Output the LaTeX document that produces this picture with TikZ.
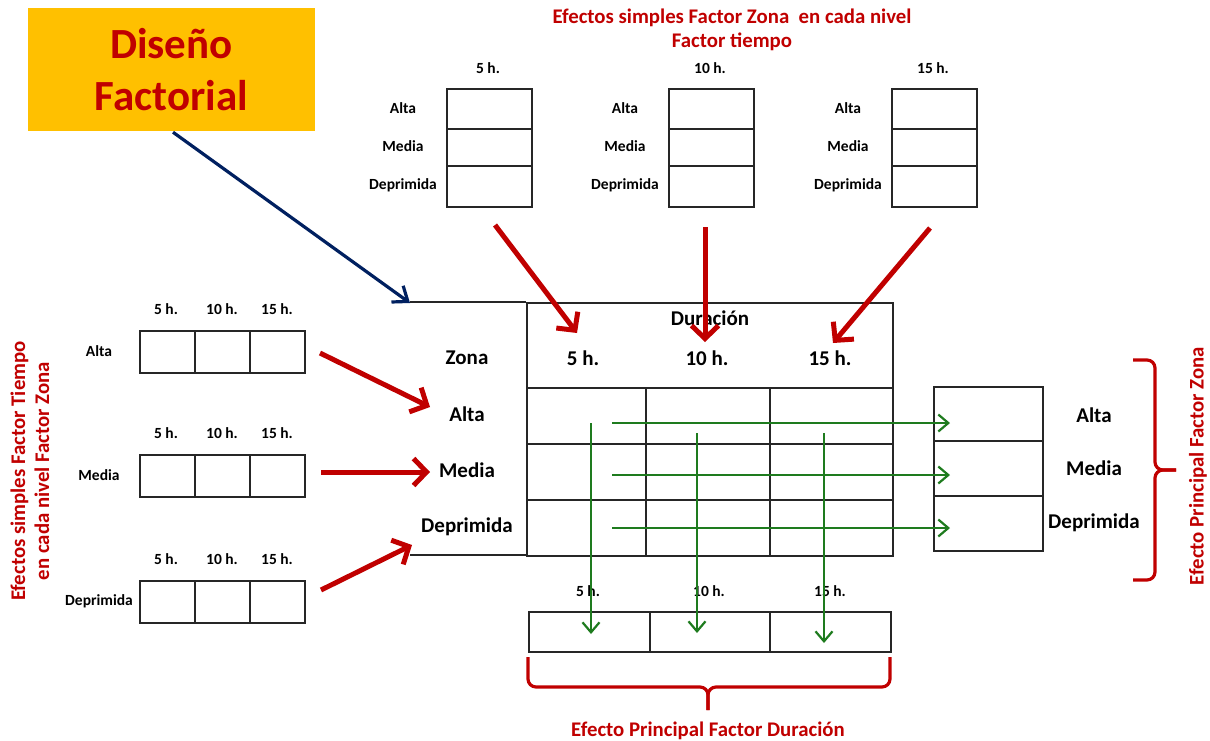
\documentclass[tikz,border=0pt]{standalone}
\usepackage{fontspec}
\setmainfont{Carlito}
\usetikzlibrary{arrows.meta}
\definecolor{dred}{HTML}{C00000}
\definecolor{gold}{HTML}{FFC000}
\definecolor{navy}{HTML}{002060}
\definecolor{dgreen}{HTML}{1E7B1E}
\begin{document}
\begin{tikzpicture}[x=1pt,y=-1pt,
  cellbox/.style={draw=black!85, line width=1.8pt, inner sep=0pt, anchor=north west},
  gridline/.style={draw=black!85, line width=1.8pt},
  small/.style={font=\bfseries\fontsize{15.5}{17}\selectfont, inner sep=0pt},
  mid/.style={font=\bfseries\fontsize{21}{24}\selectfont, inner sep=0pt},
  head/.style={text=dred, font=\bfseries\fontsize{20.8}{24}\selectfont, align=center, inner sep=0pt},
  redarrow/.style={draw=dred, line width=5pt, -{Straight Barb[length=13pt,width=27pt]}},
  greenarrow/.style={draw=dgreen, line width=2.2pt, -{Straight Barb[length=10pt,width=17pt]}},
  bluearrow/.style={draw=navy, line width=3.2pt, -{Straight Barb[length=13pt,width=20pt]}},
  bracket/.style={draw=dred, line width=3.2pt, rounded corners=8pt},
]
\useasboundingbox (0,0) rectangle (1210,740);

% title
\node[fill=gold, minimum width=287pt, minimum height=123pt, inner sep=0pt, text=dred,
      align=center, font=\bfseries\fontsize{43}{52}\selectfont] (title) at (171.5,69.5) {Diseño\\Factorial};

% top heading
\node[head] (tophead) at (732,30) {Efectos simples Factor Zona\ \ en cada nivel\\Factor tiempo};

% top tables
\foreach \x/\h/\n in {446/5 h./a, 668/10 h./b, 891/15 h./c}{
  \node[small] (th\n) at (\x+42,68) {\h};
  \node[cellbox, minimum width=85pt, minimum height=40pt] (t\n1) at (\x,88) {};
  \node[cellbox, minimum width=85pt, minimum height=37pt] (t\n2) at (\x,128) {};
  \node[cellbox, minimum width=85pt, minimum height=41pt] (t\n3) at (\x,165) {};
  \node[small] (tl\n1) at (\x-43,108) {Alta};
  \node[small] (tl\n2) at (\x-43,146) {Media};
  \node[small] (tl\n3) at (\x-43,185) {Deprimida};
}

% left tables
\foreach \y/\lab/\n in {330/Alta/a, 454/Media/b, 580/Deprimida/c}{
  \node[small] (lh\n1) at (166,\y-21) {5 h.};
  \node[small] (lh\n2) at (222,\y-21) {10 h.};
  \node[small] (lh\n3) at (277,\y-21) {15 h.};
  \node[cellbox, minimum width=55pt, minimum height=42pt] (l\n1) at (139,\y) {};
  \node[cellbox, minimum width=55pt, minimum height=42pt] (l\n2) at (194,\y) {};
  \node[cellbox, minimum width=55pt, minimum height=42pt] (l\n3) at (249,\y) {};
  \node[small] (ll\n) at (99,\y+21) {\lab};
}

% left rotated heading
\node[head, rotate=90] (lefthead) at (30,471) {Efectos simples Factor Tiempo\\en cada nivel Factor Zona};

% central table
\node[cellbox, minimum width=366pt, minimum height=85pt] (chead) at (526,302) {};
\draw[gridline] (410,302) -- (chead.north west);
\draw[gridline] (410,555) -- (526,555);
\foreach \r/\y/\hh in {1/387/56, 2/443/56, 3/499/56}{
  \node[cellbox, minimum width=119pt, minimum height=\hh pt] (c\r1) at (526,\y) {};
  \node[cellbox, minimum width=124pt, minimum height=\hh pt] (c\r2) at (645,\y) {};
  \node[cellbox, minimum width=123pt, minimum height=\hh pt] (c\r3) at (769,\y) {};
}
\node[mid] (dur) at (710,318) {Duración};
\node[mid] (zona) at (467,358) {Zona};
\node[mid] (h5) at (583,358) {5 h.};
\node[mid] (h10) at (707,358) {10 h.};
\node[mid] (h15) at (830,358) {15 h.};
\node[mid] (za) at (467,414) {Alta};
\node[mid] (zm) at (467,470) {Media};
\node[mid] (zd) at (467,527) {Deprimida};

% right table
\node[cellbox, minimum width=109pt, minimum height=54pt] (r1) at (933,386) {};
\node[cellbox, minimum width=109pt, minimum height=55pt] (r2) at (933,440) {};
\node[cellbox, minimum width=109pt, minimum height=55pt] (r3) at (933,495) {};
\node[mid] (ra) at (1094,415) {Alta};
\node[mid] (rm) at (1094,468) {Media};
\node[mid] (rd) at (1094,523) {Deprimida};

% bottom table
\node[cellbox, minimum width=121pt, minimum height=40pt] (b1) at (528,611) {};
\node[cellbox, minimum width=120pt, minimum height=40pt] (b2) at (649,611) {};
\node[cellbox, minimum width=121pt, minimum height=40pt] (b3) at (769,611) {};
\node[small] (bh1) at (588,591) {5 h.};
\node[small] (bh2) at (709,591) {10 h.};
\node[small] (bh3) at (830,591) {15 h.};

% coordinates for connectors
\coordinate (dz) at (410,303);
\coordinate (ta) at (495,225);  \coordinate (ta2) at (577,333);
\coordinate (tb) at (705,227);  \coordinate (tb2) at (705,342);
\coordinate (tc) at (930,228);  \coordinate (tc2) at (833,343);
\coordinate (la) at (320,353);  \coordinate (la2) at (430,407);
\coordinate (lb) at (321,472);  \coordinate (lb2) at (430,472);
\coordinate (lc) at (321,590);  \coordinate (lc2) at (412,545);
\coordinate (g1) at (612,423);  \coordinate (g1e) at (950,423);
\coordinate (g2) at (612,475);  \coordinate (g2e) at (950,475);
\coordinate (g3) at (612,528);  \coordinate (g3e) at (950,528);
\coordinate (v1) at (591,423);  \coordinate (v1e) at (591,634);
\coordinate (v2) at (697,433);  \coordinate (v2e) at (697,633);
\coordinate (v3) at (824,433);  \coordinate (v3e) at (824,643);

% arrows
\draw[bluearrow] (title.south) ++(1.5,1) -- (dz);
\draw[redarrow] (ta) -- (ta2);
\draw[redarrow] (tb) -- (tb2);
\draw[redarrow] (tc) -- (tc2);
\draw[redarrow] (la) -- (la2);
\draw[redarrow] (lb) -- (lb2);
\draw[redarrow] (lc) -- (lc2);
\draw[greenarrow] (g1) -- (g1e);
\draw[greenarrow] (g2) -- (g2e);
\draw[greenarrow] (g3) -- (g3e);
\draw[greenarrow] (v1) -- (v1e);
\draw[greenarrow] (v2) -- (v2e);
\draw[greenarrow] (v3) -- (v3e);

% brackets
\coordinate (bb) at (708,710);
\draw[bracket] (528,657) -- (528,687) -- (708,687) -- (bb);
\draw[bracket] (890,657) -- (890,687) -- (708,687) -- (bb);
\coordinate (rb) at (1176,470);
\draw[bracket] (1133,360) -- (1155,360) -- (1155,470) -- (rb);
\draw[bracket] (1133,580) -- (1155,580) -- (1155,470) -- (rb);

\node[head] (bottext) at (708,731) {Efecto Principal Factor Duración};
\node[head, rotate=90] (righttext) at (1198,466) {Efecto Principal Factor Zona};
\end{tikzpicture}
\end{document}
